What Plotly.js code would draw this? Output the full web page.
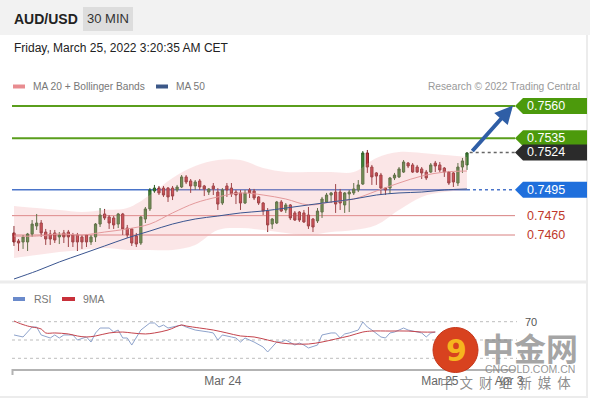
<!DOCTYPE html>
<html><head><meta charset="utf-8">
<script src="https://cdn.plot.ly/plotly-3.0.1.min.js"></script>
<style>html,body{margin:0;padding:0;background:#fff;}#chart{width:590px;height:400px;}</style>
</head><body><div id="chart"></div>
<script>
// ---- DATA ----
const candleOpen = [.74616,.74554,.74546,.74546,.74608,.74670,.74693,.74623,.74608,.74616,
.74585,.74616,.74623,.74600,.74600,.74585,.74600,.74546,.74585,.74685,
.74763,.74740,.74732,.74685,.74763,.74654,.74647,.74592,.74538,.74724,
.74802,.74941,.74964,.74964,.74964,.74964,.74949,.74972,.75050,.75019,
.74980,.75019,.74980,.74933,.74980,.74933,.74848,.74980,.74964,.74933,
.74926,.74848,.74949,.74941,.74895,.74848,.74786,.74685,.74693,.74856,
.74794,.74833,.74771,.74778,.74771,.74755,.74724,.74709,.74778,.74856,
.74910,.74933,.74933,.74833,.74918,.74926,.74949,.74995,.75236,.75127,
.75081,.75065,.74964,.74964,.75042,.75050,.75088,.75158,.75143,.75127,
.75112,.75088,.75088,.75158,.75143,.75119,.75088,.75081,.75003,.75127,
.75143];
const candleHigh = [.74670,.74569,.74600,.74616,.74716,.74763,.74716,.74647,.74639,.74639,
.74623,.74639,.74639,.74616,.74616,.74600,.74608,.74600,.74693,.74809,
.74802,.74755,.74747,.74771,.74771,.74678,.74654,.74616,.74747,.74817,
.74964,.74988,.74980,.74980,.74972,.74980,.74988,.75065,.75065,.75034,
.75026,.75034,.74988,.74964,.75003,.74964,.74964,.75003,.75003,.74949,
.74949,.74949,.74964,.74957,.74902,.74856,.74809,.74732,.74864,.74871,
.74848,.74840,.74786,.74786,.74794,.74817,.74732,.74809,.74895,.74926,
.74933,.74995,.74957,.74933,.74949,.75003,.75026,.75251,.75259,.75143,
.75088,.75081,.74972,.75050,.75081,.75127,.75181,.75166,.75158,.75143,
.75127,.75104,.75158,.75174,.75166,.75127,.75096,.75088,.75158,.75197,
.75243];
const candleLow = [.74515,.74476,.74492,.74476,.74585,.74639,.74585,.74523,.74523,.74538,
.74530,.74538,.74507,.74507,.74476,.74492,.74507,.74523,.74546,.74662,
.74716,.74647,.74647,.74654,.74600,.74577,.74515,.74507,.74523,.74693,
.74786,.74926,.74910,.74895,.74856,.74871,.74933,.74964,.74995,.74926,
.74949,.74949,.74902,.74910,.74910,.74794,.74833,.74895,.74895,.74840,
.74794,.74840,.74887,.74871,.74833,.74755,.74623,.74647,.74685,.74778,
.74771,.74716,.74709,.74701,.74693,.74647,.74623,.74693,.74732,.74848,
.74848,.74771,.74794,.74771,.74778,.74910,.74933,.74988,.75081,.74988,
.74988,.74910,.74910,.74918,.75026,.75042,.75081,.75119,.75081,.75081,
.75034,.75026,.75081,.75088,.75088,.75050,.74988,.74972,.74980,.75081,
.75104];
const candleClose = [.74546,.74538,.74585,.74608,.74685,.74693,.74616,.74569,.74569,.74561,
.74600,.74585,.74585,.74546,.74546,.74546,.74546,.74585,.74685,.74755,
.74732,.74693,.74678,.74763,.74647,.74600,.74538,.74530,.74740,.74802,
.74949,.74964,.74926,.74910,.74895,.74902,.74972,.75050,.75011,.74980,
.75011,.74972,.74957,.74957,.74957,.74840,.74949,.74949,.74918,.74910,
.74848,.74926,.74926,.74887,.74848,.74786,.74678,.74724,.74856,.74786,
.74833,.74732,.74716,.74716,.74701,.74670,.74662,.74786,.74879,.74910,
.74926,.74840,.74848,.74926,.74933,.74957,.74988,.75236,.75127,.75050,
.75057,.74964,.74949,.75042,.75065,.75112,.75166,.75135,.75088,.75088,
.75081,.75042,.75143,.75135,.75104,.75088,.75003,.75011,.75127,.75174,
.75236];

const bandIdx = [1,6,11,16,21,26,31,36,41,46,51,56,61,66,71,76,81,86,91,96,101];
const ma20    = [.74592,.74592,.74608,.74600,.74623,.74647,.74685,.74771,.74848,.74895,.74926,.74910,.74879,.74833,.74856,.74879,.74941,.75003,.75057,.75088,.75096];
const bbUpper = [.74825,.74809,.74794,.74778,.74794,.74809,.74910,.75042,.75135,.75181,.75181,.75119,.75088,.75088,.75088,.75088,.75197,.75243,.75236,.75220,.75205];
const bbLower = [.74422,.74445,.74468,.74484,.74499,.74484,.74484,.74484,.74523,.74639,.74654,.74639,.74616,.74600,.74623,.74639,.74678,.74794,.74895,.74933,.74949];
const ma50    = [.74259,.74321,.74391,.74453,.74515,.74577,.74631,.74685,.74724,.74747,.74771,.74786,.74809,.74833,.74856,.74879,.74910,.74926,.74933,.74949,.74957];

const rsiIdx = [1,3,5,6,7,9,10,11,12,14,15,17,18,19,20,22,23,24,25,26,27,28,29,31,32,33,34,35,38,39,41,44,45,46,47,49,50,51,52,54,56,57,58,59,60,61,63,64,65,66,68,69,71,72,73,74,75,77,78,79,80,82,83,84,85,87,88,90,91,92,93,94];
const rsiVal = [55.5,53.3,64.2,64.2,55.5,52.2,55.5,52.2,55.5,55.5,50.0,53.3,47.8,57.7,63.1,63.1,58.7,60.9,52.2,52.2,44.5,52.2,60.9,68.6,68.6,64.2,66.4,63.1,66.4,64.2,60.9,58.7,57.7,50.0,55.5,53.3,52.2,47.8,52.2,47.8,42.3,36.9,42.3,47.8,47.8,50.0,44.5,46.7,44.5,41.3,44.5,55.5,57.7,57.7,52.2,56.6,57.7,60.9,69.7,64.2,60.9,53.3,52.2,57.7,58.7,63.1,60.9,58.7,57.7,53.3,57.7,58.7];
const rsiMaIdx = [1,2,4,5,7,8,10,13,15,17,19,22,25,27,30,32,35,38,39,42,45,48,51,54,57,60,63,66,69,72,75,78,80,84,88,91,94];
const rsiMaVal = [70.8,68.6,65.3,64.2,62.0,57.7,57.7,56.6,54.4,53.3,54.4,57.7,58.7,57.7,56.6,57.7,60.9,66.4,65.3,63.1,60.9,57.7,54.4,53.3,50.0,46.7,45.6,45.6,47.8,51.1,54.4,58.7,59.8,59.8,59.8,58.7,58.7];

const levelPrices = [0.7560, 0.7535, 0.7495, 0.7475, 0.7460];
const levelLabels = ['0.7560', '0.7535', '0.7495', '0.7475', '0.7460'];
const lastPrice = 0.7524;
const lastLabel = '0.7524';
const rsiLevels = [70, 50, 30];
const xTickLabels = ['Mar 24', 'Mar 25', 'Apr 3'];
const xTickPos = [47.1, 95.0, 110.3];

// ---- LAYOUT HELPERS ----
const W = 590, H = 400;
const px = v => v / W;
const py = v => 1 - v / H;
const N = candleOpen.length;
const candleIdx = candleOpen.map((_, i) => i + 1);
const xRange = [0.558, 111.6];
const yRange = [0.742512, 0.756775];
const yTopPx = 96, yBotPx = 280;
const pxPerPrice = (yBotPx - yTopPx) / (yRange[1] - yRange[0]);
const rsiRange = [18.31, 82.79];
const FONT = 'Liberation Sans, Arial, sans-serif';
const CJK = 'Noto Sans CJK SC, sans-serif';

const shapes = [];
const ann = [];

// header band
shapes.push({type:'rect', xref:'paper', yref:'paper', x0:0, x1:1, y0:py(35), y1:1, fillcolor:'#f2f2f2', line:{width:0}, layer:'below'});
shapes.push({type:'rect', xref:'paper', yref:'paper', x0:px(83), x1:px(133), y0:py(31), y1:py(7), fillcolor:'#dddddd', line:{width:0}, layer:'below'});
// panel separators / frame
shapes.push({type:'line', xref:'paper', yref:'paper', x0:0, x1:px(588), y0:py(282), y1:py(282), line:{color:'#ececec', width:3}});
shapes.push({type:'line', xref:'paper', yref:'paper', x0:0, x1:px(588), y0:py(397), y1:py(397), line:{color:'#ececec', width:2}});
shapes.push({type:'line', xref:'paper', yref:'paper', x0:px(587), x1:px(587), y0:py(397), y1:py(35), line:{color:'#ececec', width:2}});

// legends
ann.push({xref:'paper', yref:'paper', x:px(12), y:py(18.5), xanchor:'left', yanchor:'middle', showarrow:false, text:'<b>AUD/USD</b>', font:{family:FONT, size:14, color:'#222'}});
ann.push({xref:'paper', yref:'paper', x:px(108), y:py(19), xanchor:'center', yanchor:'middle', showarrow:false, text:'30 MIN', font:{family:FONT, size:13, color:'#333'}});
ann.push({xref:'paper', yref:'paper', x:px(12), y:py(47.5), xanchor:'left', yanchor:'middle', showarrow:false, text:'Friday, March 25, 2022 3:20:35 AM CET', font:{family:FONT, size:12, color:'#222'}});
shapes.push({type:'rect', xref:'paper', yref:'paper', x0:px(13), x1:px(25), y0:py(88.5), y1:py(84.5), fillcolor:'#e88c90', line:{width:0}});
ann.push({xref:'paper', yref:'paper', x:px(31), y:py(86.5), xanchor:'left', yanchor:'middle', showarrow:false, text:'MA 20 + Bollinger Bands', font:{family:FONT, size:10.2, color:'#777'}});
shapes.push({type:'rect', xref:'paper', yref:'paper', x0:px(156), x1:px(168), y0:py(88.5), y1:py(84.5), fillcolor:'#3c5888', line:{width:0}});
ann.push({xref:'paper', yref:'paper', x:px(174), y:py(86.5), xanchor:'left', yanchor:'middle', showarrow:false, text:'MA 50', font:{family:FONT, size:10.2, color:'#777'}});
ann.push({xref:'paper', yref:'paper', x:px(582), y:py(86.5), xanchor:'right', yanchor:'middle', showarrow:false, text:'Research © 2022 Trading Central', font:{family:FONT, size:10.2, color:'#999'}});
shapes.push({type:'rect', xref:'paper', yref:'paper', x0:px(13), x1:px(25), y0:py(301), y1:py(297), fillcolor:'#6a8acb', line:{width:0}});
ann.push({xref:'paper', yref:'paper', x:px(32), y:py(299), xanchor:'left', yanchor:'middle', showarrow:false, text:'RSI', font:{family:FONT, size:10.5, color:'#777'}});
shapes.push({type:'rect', xref:'paper', yref:'paper', x0:px(62), x1:px(75), y0:py(301), y1:py(297), fillcolor:'#c8303a', line:{width:0}});
ann.push({xref:'paper', yref:'paper', x:px(81), y:py(299), xanchor:'left', yanchor:'middle', showarrow:false, text:'9MA', font:{family:FONT, size:10.5, color:'#777'}});

// price levels
const lvlStyle = [
  {color:'#5a9e1c', width:2, tag:'#4c9a0c', text:'#fff'},
  {color:'#5a9e1c', width:2, tag:'#4c9a0c', text:'#fff'},
  {color:'#4a74c9', width:1.5, tag:'#1f6fdc', text:'#fff', split:true},
  {color:'#d88080', width:1, text:'#c0392b'},
  {color:'#d88080', width:1, text:'#c0392b'}
];
const hTag = 8 / pxPerPrice;
function tag(p, color) {
  const a = px(515), b = px(523), c = px(587);
  shapes.push({type:'path', xref:'paper', yref:'y', path:`M ${a},${p} L ${b},${p+hTag} L ${c},${p+hTag} L ${c},${p-hTag} L ${b},${p-hTag} Z`, fillcolor:color, line:{width:0}});
}
levelPrices.forEach((p, i) => {
  const s = lvlStyle[i];
  if (s.split) {
    shapes.push({type:'line', xref:'x', yref:'y', x0:xRange[0], x1:N, y0:p, y1:p, line:{color:s.color, width:s.width}, layer:'below'});
    shapes.push({type:'line', xref:'x', yref:'y', x0:N, x1:xRange[1], y0:p, y1:p, line:{color:s.color, width:1.5, dash:'dot'}, layer:'below'});
  } else {
    shapes.push({type:'line', xref:'x', yref:'y', x0:xRange[0], x1:xRange[1], y0:p, y1:p, line:{color:s.color, width:s.width}, layer:'below'});
  }
  if (s.tag) tag(p, s.tag);
  ann.push({xref:'paper', yref:'y', x:px(525), y:p, xanchor:'left', yanchor:'middle', showarrow:false, text:levelLabels[i], font:{family:FONT, size:12.5, color:s.text}});
});
shapes.push({type:'line', xref:'x', yref:'y', x0:N + 0.6, x1:xRange[1], y0:lastPrice, y1:lastPrice, line:{color:'#666', width:1.5, dash:'dot'}});
tag(lastPrice, '#2b2b2b');
ann.push({xref:'paper', yref:'y', x:px(525), y:lastPrice, xanchor:'left', yanchor:'middle', showarrow:false, text:lastLabel, font:{family:FONT, size:12.5, color:'#fff'}});

// target arrow
ann.push({xref:'x', yref:'y', x:0.558 + (513 - 12) / 4.53, y:levelPrices[0] + 0.5 / pxPerPrice, ax:-42, ay:47, axref:'pixel', ayref:'pixel', text:'', showarrow:true, arrowhead:2, arrowsize:0.9, arrowwidth:4, arrowcolor:'#2f5ea6'});

// RSI levels
rsiLevels.forEach(v => {
  shapes.push({type:'line', xref:'paper', yref:'y2', x0:px(12), x1:px(517), y0:v, y1:v, line:{color:'#bdbdbd', width:1, dash:'dot'}, layer:'below'});
});
ann.push({xref:'paper', yref:'y2', x:px(531), y:rsiLevels[0], xanchor:'center', yanchor:'middle', showarrow:false, text:String(rsiLevels[0]), font:{family:FONT, size:11, color:'#555'}});
shapes.push({type:'line', xref:'paper', yref:'paper', x0:px(12.5), x1:px(12.5), y0:py(369), y1:py(375), line:{color:'#b3b3b3', width:2}});

// watermark
shapes.push({type:'circle', xref:'paper', yref:'paper', x0:px(433), x1:px(478), y0:py(372.5), y1:py(327.5), fillcolor:'#d8421f', line:{color:'#c53519', width:1}});
ann.push({xref:'paper', yref:'paper', x:px(456), y:py(350), xanchor:'center', yanchor:'middle', showarrow:false, text:'<b>9</b>', font:{family:'DejaVu Sans, sans-serif', size:30, color:'#f6b51e'}});
ann.push({xref:'paper', yref:'paper', x:px(530), y:py(347), xanchor:'center', yanchor:'middle', showarrow:false, text:'<b>中金网</b>', font:{family:CJK, size:32, color:'rgba(135,135,135,0.75)'}});
ann.push({xref:'paper', yref:'paper', x:px(530), y:py(368.5), xanchor:'center', yanchor:'middle', showarrow:false, text:'CNGOLD.COM.CN', font:{family:FONT, size:10.5, color:'rgba(130,130,130,0.85)'}});
ann.push({xref:'paper', yref:'paper', x:px(505), y:py(381.5), xanchor:'center', yanchor:'middle', showarrow:false, text:'中\u00a0\u00a0文\u00a0\u00a0财\u00a0\u00a0经\u00a0\u00a0新\u00a0\u00a0媒\u00a0\u00a0体', font:{family:CJK, size:13.5, color:'rgba(110,110,110,0.8)'}});

// ---- TRACES ----
const traces = [
  {x:bandIdx, y:bbUpper, type:'scatter', mode:'lines', line:{width:0, shape:'spline'}, hoverinfo:'skip', xaxis:'x', yaxis:'y'},
  {x:bandIdx, y:bbLower, type:'scatter', mode:'lines', line:{width:0, shape:'spline'}, fill:'tonexty', fillcolor:'rgba(242,165,170,0.28)', hoverinfo:'skip', xaxis:'x', yaxis:'y'},
  {x:bandIdx, y:ma20, type:'scatter', mode:'lines', line:{color:'#e49a9c', width:1, shape:'spline'}, hoverinfo:'skip', xaxis:'x', yaxis:'y'},
  {x:bandIdx, y:ma50, type:'scatter', mode:'lines', line:{color:'#3a5590', width:1, shape:'spline'}, hoverinfo:'skip', xaxis:'x', yaxis:'y'},
  {x:candleIdx, open:candleOpen, high:candleHigh, low:candleLow, close:candleClose, type:'candlestick', xaxis:'x', yaxis:'y',
   increasing:{line:{color:'#2e5e26', width:1}, fillcolor:'#3f8a36'},
   decreasing:{line:{color:'#7f2024', width:1}, fillcolor:'#c8333b'}, whiskerwidth:0, hoverinfo:'skip'},
  {x:rsiIdx, y:rsiVal, type:'scatter', mode:'lines', line:{color:'#8ea3cc', width:1}, hoverinfo:'skip', xaxis:'x2', yaxis:'y2'},
  {x:rsiMaIdx, y:rsiMaVal, type:'scatter', mode:'lines', line:{color:'#c4434c', width:1, shape:'spline'}, hoverinfo:'skip', xaxis:'x2', yaxis:'y2'}
];

const layout = {
  width:W, height:H, margin:{l:0, r:0, t:0, b:0},
  paper_bgcolor:'#ffffff', plot_bgcolor:'rgba(0,0,0,0)', showlegend:false,
  xaxis:{domain:[px(12), px(515)], range:xRange, visible:false, rangeslider:{visible:false}, fixedrange:true},
  yaxis:{domain:[py(yBotPx), py(yTopPx)], range:yRange, visible:false, fixedrange:true},
  xaxis2:{domain:[px(12), px(515)], range:xRange, anchor:'y2', showline:true, linecolor:'#b3b3b3', linewidth:2,
          showgrid:false, zeroline:false, ticks:'', tickvals:xTickPos, ticktext:xTickLabels,
          tickfont:{family:FONT, size:12, color:'#666'}, fixedrange:true},
  yaxis2:{domain:[py(369), py(310)], range:rsiRange, visible:false, fixedrange:true},
  shapes:shapes, annotations:ann, font:{family:FONT}
};
Plotly.newPlot('chart', traces, layout, {displayModeBar:false, staticPlot:true});
</script></body></html>
